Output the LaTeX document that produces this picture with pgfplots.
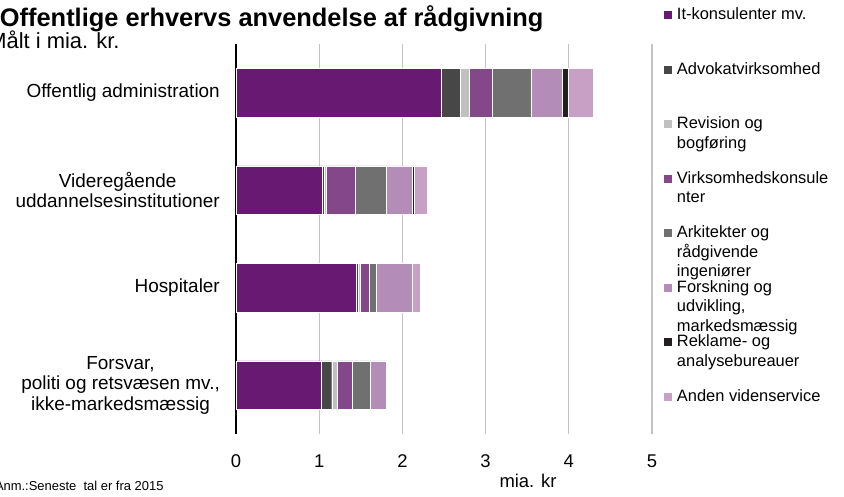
\documentclass[border=0pt]{standalone}
\usepackage{fontspec}
\setmainfont{Liberation Sans}
\usepackage{pgfplots}
\pgfplotsset{compat=1.18}

\definecolor{itkons}{HTML}{681A72}
\definecolor{advokat}{HTML}{474747}
\definecolor{revision}{HTML}{C0C0C0}
\definecolor{virk}{HTML}{84478A}
\definecolor{arkitekt}{HTML}{707070}
\definecolor{forskning}{HTML}{B38CB8}
\definecolor{reklame}{HTML}{231F20}
\definecolor{anden}{HTML}{C8A0C5}
\definecolor{gridgrey}{HTML}{C4C4C4}

\begin{document}
\begin{tikzpicture}[x=1bp,y=1bp]
\useasboundingbox (0,0) rectangle (844,497);
\clip (0,0) rectangle (844,497);

% titles and note, partly cut at the left edge as in the source
\node[anchor=base east, font=\bfseries\fontsize{25.5}{28}\selectfont] at (547,470) {Offentlige erhvervs anvendelse af rådgivning};
\node[anchor=base east, font=\fontsize{22}{24}\selectfont] at (123,448) {Målt i mia. kr.};
\node[anchor=base east, font=\fontsize{13}{15}\selectfont] at (167,6) {Anm.:Seneste\ \ tal er fra 2015};

\begin{axis}[
    at={(236bp,63bp)}, anchor=south west,
    scale only axis, width=416bp, height=390bp,
    xbar stacked, bar width=0.5,
    xmin=0, xmax=5, xtick={0,1,...,5},
    ymin=-0.5, ymax=3.5, y dir=reverse,
    ytick={0,1,2,3},
    yticklabels={{Offentlig administration},
                 {Videregående\\uddannelsesinstitutioner},
                 {Hospitaler},
                 {Forsvar,\\politi og retsvæsen mv.,\\ikke-markedsmæssig}},
    axis y line*=left, axis x line*=bottom,
    x axis line style={draw=none},
    y axis line style={black, line width=1.5bp},
    major tick length=0pt,
    xmajorgrids,
    grid style={draw=gridgrey, line width=1.3bp},
    /pgf/number format/assume math mode=true,
    xticklabel style={anchor=base, inner sep=0pt, yshift=-33bp, font=\fontsize{18.5}{20}\selectfont},
    yticklabel style={align=center, anchor=east, inner sep=0pt, xshift=-16bp, font=\fontsize{19}{20.5}\selectfont},
    xlabel={mia. kr},
    xlabel style={at={(axis description cs:0.702,-0.1359)}, anchor=base, inner sep=0pt, font=\fontsize{18.5}{20}\selectfont},
    every axis plot/.append style={draw=white, line width=0.3bp},
    legend image code/.code={\fill[#1,draw=none] (0bp,0.5bp) rectangle (8bp,8.5bp);},
    legend cell align=left,
    legend style={at={(axis description cs:1.0288,1.0949)}, anchor=north west,
        draw=none, fill=none, inner sep=0pt, outer sep=0pt,
        row sep=0pt, column sep=5bp,
        font=\fontsize{16.5}{19.5}\selectfont,
        cells={anchor=base west},
        nodes={inner sep=0pt, text height=13bp, text depth=41.5bp}},
]
% rows: 0 Offentlig adm., 1 Videregaaende, 2 Hospitaler, 3 Forsvar
\addplot[fill=itkons] coordinates {(2.47,0) (1.04,1) (1.45,2) (1.02,3)};
\addlegendentry{It-konsulenter mv.}
\addplot[fill=advokat] coordinates {(0.22,0) (0.02,1) (0.02,2) (0.13,3)};
\addlegendentry{Advokatvirksomhed}
\addplot[fill=revision] coordinates {(0.11,0) (0.02,1) (0.02,2) (0.06,3)};
\addlegendentry{\parbox[t]{165bp}{Revision og\\bogføring}}
\addplot[fill=virk] coordinates {(0.28,0) (0.35,1) (0.11,2) (0.19,3)};
\addlegendentry{\parbox[t]{165bp}{Virksomhedskonsule\\nter}}
\addplot[fill=arkitekt] coordinates {(0.47,0) (0.37,1) (0.09,2) (0.21,3)};
\addlegendentry{\parbox[t]{165bp}{Arkitekter og\\rådgivende\\ingeniører}}
\addplot[fill=forskning] coordinates {(0.37,0) (0.32,1) (0.43,2) (0.20,3)};
\addlegendentry{\parbox[t]{165bp}{Forskning og\\udvikling,\\markedsmæssig}}
\addplot[fill=reklame] coordinates {(0.07,0) (0.02,1) (0,2) (0,3)};
\addlegendentry{\parbox[t]{165bp}{Reklame- og\\analysebureauer}}
\addplot[fill=anden] coordinates {(0.30,0) (0.16,1) (0.09,2) (0,3)};
\addlegendentry{Anden videnservice}
% keep the value axis line above the bars
\draw[black, line width=1.5bp] (axis cs:0,-0.5) -- (axis cs:0,3.5);
\end{axis}
\end{tikzpicture}
\end{document}
